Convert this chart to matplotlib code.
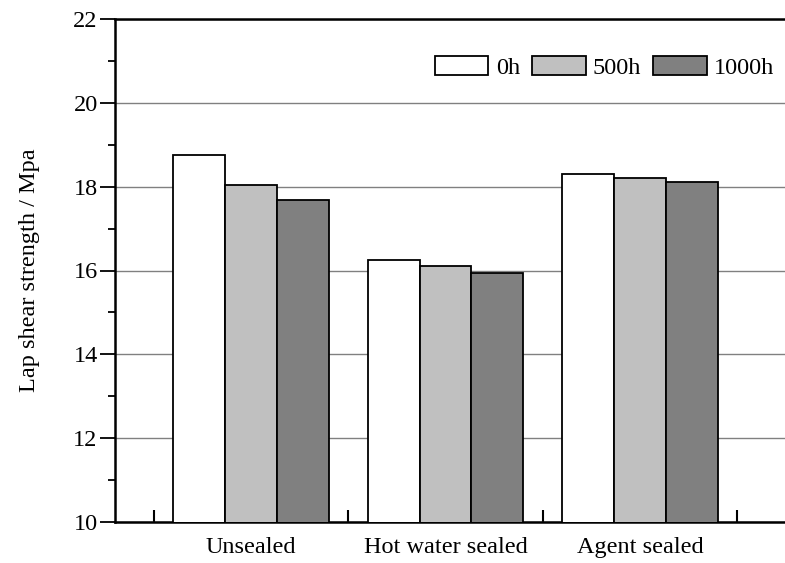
import matplotlib
matplotlib.use("Agg")
import matplotlib.pyplot as plt
import numpy as np
from matplotlib.ticker import MultipleLocator, FixedLocator, NullFormatter

categories = ["Unsealed", "Hot water sealed", "Agent sealed"]
series_names = ["0h", "500h", "1000h"]
values_0h = [18.76, 16.25, 18.31]
values_500h = [18.05, 16.10, 18.20]
values_1000h = [17.69, 15.94, 18.12]
colors = ["#ffffff", "#c0c0c0", "#808080"]

plt.rcParams["font.family"] = ["Liberation Serif", "DejaVu Serif"]
fs = 17.5

fig = plt.figure(figsize=(7.85, 5.63), dpi=100)
ax = fig.add_axes([115/785, 1-522/563, (800-115)/785, (522-19)/563])

x = np.arange(1, len(categories) + 1)
w = 0.267
all_vals = [values_0h, values_500h, values_1000h]
for i, (vals, name, c) in enumerate(zip(all_vals, series_names, colors)):
    ax.bar(x + (i - 1) * w, vals, width=w, color=c, edgecolor="black",
           linewidth=1.3, label=name, zorder=3)

ax.set_ylim(10, 22)
ax.set_xlim(1 - 136/194.5, 3 + 160/194.5)
ax.yaxis.set_major_locator(MultipleLocator(2))
ax.yaxis.set_minor_locator(MultipleLocator(1))
ax.grid(axis="y", color="#808080", linewidth=1.0, zorder=0)
ax.set_axisbelow(True)

ax.xaxis.set_major_locator(FixedLocator([0.5, 1.5, 2.5, 3.5]))
ax.xaxis.set_major_formatter(NullFormatter())
ax.set_xticks(list(x), minor=True)
ax.set_xticklabels(categories, minor=True, fontsize=fs)
ax.tick_params(axis="x", which="major", direction="in", length=9, width=1.5)
ax.tick_params(axis="x", which="minor", length=0, pad=11)
ax.tick_params(axis="y", which="major", direction="out", length=11, width=1.3,
               labelsize=fs, pad=1.5)
ax.tick_params(axis="y", which="minor", direction="out", length=5, width=1.3)

for s in ["left", "bottom", "top"]:
    ax.spines[s].set_linewidth(1.8)
ax.spines["right"].set_visible(False)

ax.set_ylabel("Lap shear strength / Mpa", fontsize=fs, labelpad=24)

fig.legend(loc="center left", bbox_to_anchor=(435/785, 1-67.5/563),
           ncol=3, frameon=False, fontsize=fs, borderpad=0,
           handlelength=2.2, handleheight=0.85, handletextpad=0.3,
           columnspacing=0.5, borderaxespad=0)

fig.savefig("out.png", dpi=100)
